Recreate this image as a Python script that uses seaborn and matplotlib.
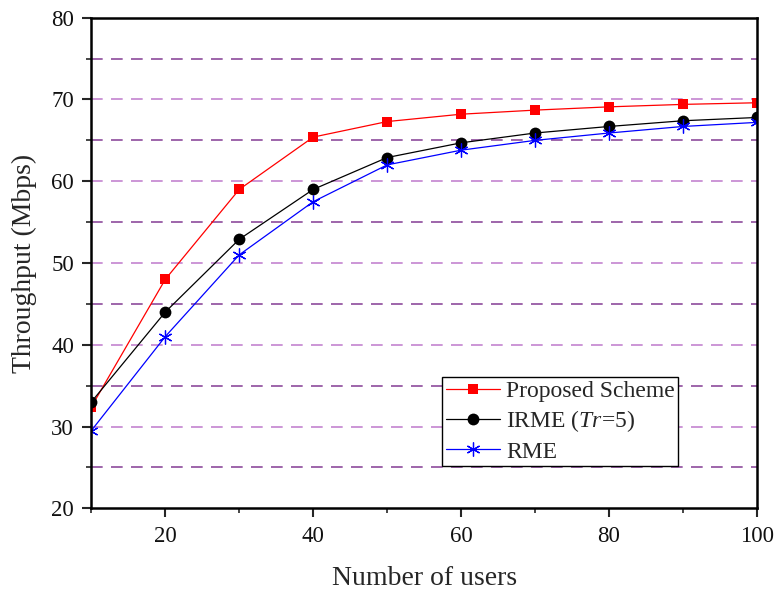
import numpy as np
import pandas as pd
import seaborn as sns
import matplotlib.pyplot as plt
from matplotlib.ticker import MultipleLocator

# dados
usuarios = [10, 20, 30, 40, 50, 60, 70, 80, 90, 100]
proposto = [32.4, 48.0, 59.0, 65.4, 67.3, 68.2, 68.7, 69.1, 69.4, 69.6]
irme = [33.0, 44.0, 52.9, 59.0, 62.9, 64.7, 65.9, 66.7, 67.4, 67.8]
rme = [29.5, 41.0, 51.0, 57.5, 62.0, 63.8, 65.0, 65.9, 66.7, 67.2]

nomes = ['Proposed Scheme', 'IRME ($\\mathit{Tr}$=5)', 'RME']

sns.set_style('white')
plt.rcParams['font.family'] = ['Liberation Serif', 'DejaVu Serif']
plt.rcParams['mathtext.fontset'] = 'custom'
plt.rcParams['mathtext.it'] = 'Liberation Serif:italic'
plt.rcParams['mathtext.rm'] = 'Liberation Serif'

fig, ax = plt.subplots(figsize=(7.74, 5.91), dpi=100)

# linhas de grade tracejadas a cada 5
for v in range(25, 80, 5):
    cor = '#c484cf' if v % 10 == 0 else '#8e4c9c'
    ax.axhline(v, color=cor, linestyle=(0, (7, 5)), linewidth=1.2, zorder=0)

sns.lineplot(x=usuarios, y=proposto, ax=ax, color='red', marker='s',
             markersize=7.5, markeredgewidth=0, linewidth=0.9, label=nomes[0])
sns.lineplot(x=usuarios, y=irme, ax=ax, color='black', marker='o',
             markersize=8.5, markeredgewidth=0, linewidth=0.9, label=nomes[1])
sns.lineplot(x=usuarios, y=rme, ax=ax, color='blue', marker=(6, 2, 0),
             markersize=10, markeredgewidth=0.9, markeredgecolor='blue',
             linewidth=0.9, label=nomes[2])

ax.set_xlim(10, 100)
ax.set_ylim(20, 80)
ax.xaxis.set_major_locator(MultipleLocator(20))
ax.xaxis.set_minor_locator(MultipleLocator(10))
ax.yaxis.set_major_locator(MultipleLocator(10))
ax.yaxis.set_minor_locator(MultipleLocator(5))
ax.tick_params(which='major', direction='out', length=6.5, width=1.5,
               pad=6, labelsize=16.5, labelcolor='#111111',
               bottom=True, left=True, top=False, right=False)
ax.tick_params(which='minor', direction='out', length=3.5, width=1.2,
               bottom=True, left=True, top=False, right=False)
for lado in ax.spines.values():
    lado.set_linewidth(1.8)
    lado.set_color('black')

ax.set_xlabel('Number of users', fontsize=20, labelpad=14)
ax.set_ylabel('Throughput (Mbps)', fontsize=20, labelpad=10)

leg = ax.legend(loc='lower left', bbox_to_anchor=(0.527, 0.086), fontsize=17,
                frameon=True, fancybox=False, framealpha=1, edgecolor='black',
                borderpad=0.15, labelspacing=0.28, handlelength=2.3,
                handletextpad=0.25, borderaxespad=0)
leg.get_frame().set_linewidth(1.0)

plt.subplots_adjust(left=0.118, right=0.978, top=0.97, bottom=0.14)
plt.savefig('out.png', dpi=100)
